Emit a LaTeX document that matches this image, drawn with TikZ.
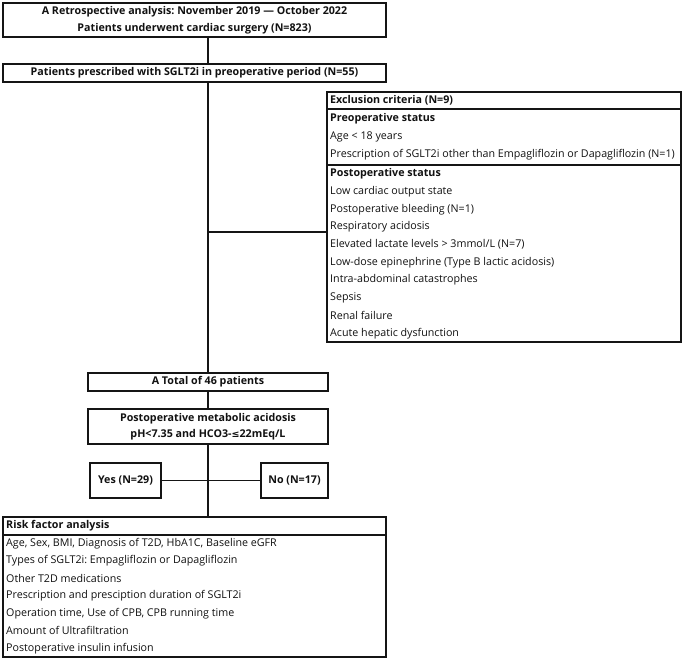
\documentclass[tikz,border=0pt]{standalone}
\usepackage{fontspec}
\setmainfont{Open Sans}
\newfontfamily\symfont{DejaVu Sans}
\definecolor{linec}{HTML}{151515}
\definecolor{txt}{HTML}{111111}
\newcommand\fsz{\fontsize{10.7}{16.5}\selectfont}
\frenchspacing
\begin{document}
\frenchspacing
\begin{tikzpicture}[x=1pt,y=-1pt,
  box/.style={draw=linec, line width=1.15pt, anchor=north west, inner sep=0pt, outer sep=0pt},
  lbl/.style={anchor=west, inner sep=0pt, text=txt, font=\fsz},
  hd/.style={anchor=west, inner sep=0pt, text=txt, font=\fsz\bfseries},
  ctr/.style={anchor=center, inner sep=0pt, text=txt, font=\fsz\bfseries, align=center},
  link/.style={draw=linec, line width=1.15pt}]
\useasboundingbox (0,0) rectangle (685,659);

% boxes
\node[box, minimum width=383, minimum height=34] (b1) at (3,3) {};
\node[ctr] (b1t) at (b1.center) {A Retrospective analysis: November 2019 — October 2022\\Patients underwent cardiac surgery (N=823)};
\node[box, minimum width=383, minimum height=18] (b2) at (3,64) {};
\node[ctr] (b2t) at (b2.center) {Patients prescribed with SGLT2i in preoperative period (N=55)};

\node[box, minimum width=354, minimum height=250] (excl) at (327,92) {};
\draw[link] (excl.west |- 0,109) -- (excl.east |- 0,109);
\draw[link] (excl.west |- 0,165) -- (excl.east |- 0,165);
\node[hd]  (e0) at (330,100.5) {Exclusion criteria (N=9)};
\node[hd]  (e1) at (330,119) {Preoperative status};
\node[lbl] (e2) at (330,137) {Age < 18 years};
\node[lbl] (e3) at (330,155) {Prescription of SGLT2i other than Empagliflozin or Dapagliflozin (N=1)};
\node[hd]  (p0) at (330,173.9) {Postoperative status};
\node[lbl] (p1) at (330,191.6) {Low cardiac output state};
\node[lbl] (p2) at (330,209.3) {Postoperative bleeding (N=1)};
\node[lbl] (p3) at (330,227.0) {Respiratory acidosis};
\node[lbl] (p4) at (330,244.7) {Elevated lactate levels > 3mmol/L (N=7)};
\node[lbl] (p5) at (330,262.4) {Low-dose epinephrine (Type B lactic acidosis)};
\node[lbl] (p6) at (330,280.1) {Intra-abdominal catastrophes};
\node[lbl] (p7) at (330,297.8) {Sepsis};
\node[lbl] (p8) at (330,315.5) {Renal failure};
\node[lbl] (p9) at (330,333.2) {Acute hepatic dysfunction};

\node[box, minimum width=240, minimum height=18] (tot) at (88,373) {};
\node[ctr] (tott) at (tot.center) {A Total of 46 patients};
\node[box, minimum width=240, minimum height=35] (meta) at (88,409) {};
\node[ctr] (metat) at (meta.center) {Postoperative metabolic acidosis\\pH<7.35 and HCO3-{\symfont\fontsize{9.5}{16.5}\selectfont ≤}22mEq/L};

\node[box, minimum width=71, minimum height=35] (yes) at (90,463) {};
\node[ctr] (yest) at (yes.center) {Yes (N=29)};
\node[box, minimum width=67, minimum height=35] (no) at (261,463) {};
\node[ctr] (not) at (no.center) {No (N=17)};

\node[box, minimum width=383, minimum height=140] (risk) at (3,517) {};
\draw[link] (risk.west |- 0,535) -- (risk.east |- 0,535);
\node[hd]  (r0) at (6,526) {Risk factor analysis};
\node[lbl] (r1) at (6,543.7) {Age, Sex, BMI, Diagnosis of T2D, HbA1C, Baseline eGFR};
\node[lbl] (r2) at (6,561.1) {Types of SGLT2i: Empagliflozin or Dapagliflozin};
\node[lbl] (r3) at (6,578.6) {Other T2D medications};
\node[lbl] (r4) at (6,596.0) {Prescription and presciption duration of SGLT2i};
\node[lbl] (r5) at (6,613.4) {Operation time, Use of CPB, CPB running time};
\node[lbl] (r6) at (6,630.9) {Amount of Ultrafiltration};
\node[lbl] (r7) at (6,648.3) {Postoperative insulin infusion};

% connectors
\coordinate (jx) at (tot.center |- 0,232);
\draw[link] (b1.south -| tot.center) -- (b2.north -| tot.center);
\draw[link] (b2.south -| tot.center) -- (tot.north);
\draw[link] (jx) -- (jx -| excl.west);
\draw[link] (tot.south) -- (meta.north);
\draw[link] (meta.south) -- (meta.south |- risk.north);
\draw[link] (yes.east) -- (no.west);
\end{tikzpicture}
\end{document}
